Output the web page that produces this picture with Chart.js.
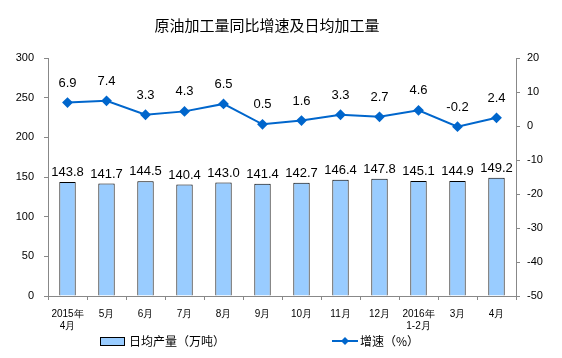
<!DOCTYPE html>
<html><head><meta charset="utf-8">
<script src="https://cdn.jsdelivr.net/npm/chart.js@4"></script>
<style>html,body{margin:0;padding:0;background:#fff}#c{display:block}</style>
</head><body>
<canvas id="c" width="562" height="358"></canvas>
<script>
const categories = [["2015年","4月"],"5月","6月","7月","8月","9月","10月","11月","12月",["2016年","1-2月"],"3月","4月"];
const dailyOutput = [143.8,141.7,144.5,140.4,143.0,141.4,142.7,146.4,147.8,145.1,144.9,149.2];
const growthRate = [6.9,7.4,3.3,4.3,6.5,0.5,1.6,3.3,2.7,4.6,-0.2,2.4];
const leftTicks = [0,50,100,150,200,250,300];
const rightTicks = [-50,-40,-30,-20,-10,0,10,20];
const titleText = "原油加工量同比增速及日均加工量";
const legendBar = "日均产量（万吨）";
const legendLine = "增速（%）";

const FONT = "'Liberation Sans', Arial, sans-serif";
const CJK = "'Noto Sans CJK SC', sans-serif";

const extras = {
  id: 'extras',
  afterDatasetsDraw(chart) {
    const ctx = chart.ctx;
    ctx.save();
    ctx.fillStyle = '#000';
    ctx.font = "13px " + FONT;
    ctx.textAlign = 'center';
    ctx.textBaseline = 'alphabetic';
    chart.getDatasetMeta(0).data.forEach((el, i) => {
      ctx.fillText(dailyOutput[i].toFixed(1), el.x, el.y - 6);
    });
    chart.getDatasetMeta(1).data.forEach((el, i) => {
      ctx.fillText(growthRate[i].toFixed(1), el.x, el.y - 16);
    });
    // title
    ctx.font = "15px " + CJK;
    ctx.textBaseline = 'middle';
    ctx.fillText(titleText, 267, 25);
    // legend
    ctx.textAlign = 'left';
    ctx.font = "12px " + CJK;
    ctx.fillStyle = '#99CCFF';
    ctx.fillRect(100, 337, 24, 8);
    ctx.strokeStyle = '#000';
    ctx.lineWidth = 1;
    ctx.strokeRect(100.5, 337.5, 24, 8);
    ctx.fillStyle = '#000';
    ctx.fillText(legendBar, 129, 341);
    ctx.strokeStyle = '#0066CC';
    ctx.lineWidth = 2;
    ctx.beginPath(); ctx.moveTo(332, 341); ctx.lineTo(358, 341); ctx.stroke();
    ctx.fillStyle = '#0066CC';
    ctx.beginPath(); ctx.moveTo(345, 337); ctx.lineTo(349, 341); ctx.lineTo(345, 345); ctx.lineTo(341, 341); ctx.closePath(); ctx.fill();
    ctx.fillStyle = '#000';
    ctx.fillText(legendLine, 360, 341);
    ctx.restore();
  }
};

new Chart(document.getElementById('c'), {
  data: {
    labels: categories,
    datasets: [
      { type: 'bar', data: dailyOutput, yAxisID: 'y', backgroundColor: '#99CCFF', borderColor: '#000', borderWidth: 1, barPercentage: 0.42, categoryPercentage: 1, order: 2 },
      { type: 'line', data: growthRate, yAxisID: 'y1', borderColor: '#0066CC', borderWidth: 2, pointStyle: 'rectRot', pointRadius: 4, pointBackgroundColor: '#0066CC', pointBorderColor: '#0066CC', tension: 0, order: 1 }
    ]
  },
  options: {
    responsive: false, animation: false,
    layout: { padding: { top: 58, bottom: 22, left: 0, right: 0 } },
    plugins: { legend: { display: false }, tooltip: { enabled: false }, title: { display: false } },
    scales: {
      x: {
        grid: { offset: true, drawOnChartArea: false, tickLength: 4, color: '#888' },
        border: { color: '#888' },
        ticks: { font: { size: 10, family: FONT }, color: '#000', maxRotation: 0, padding: 8 },
        afterFit(s) { s.height = 40; }
      },
      y: {
        position: 'left', min: 0, max: 300,
        afterBuildTicks(s) { s.ticks = leftTicks.map(v => ({ value: v })); },
        grid: { drawOnChartArea: false, tickLength: 4, color: '#888' },
        border: { color: '#888' },
        ticks: { font: { size: 11, family: FONT }, color: '#000', padding: 10 },
        afterFit(s) { s.width = 48; }
      },
      y1: {
        position: 'right', min: -50, max: 20,
        afterBuildTicks(s) { s.ticks = rightTicks.map(v => ({ value: v })); },
        grid: { drawOnChartArea: false, tickLength: 4, color: '#888' },
        border: { color: '#888' },
        ticks: { font: { size: 11, family: FONT }, color: '#000', padding: 7 },
        afterFit(s) { s.width = 46; }
      }
    }
  },
  plugins: [extras]
});
</script>
</body></html>
